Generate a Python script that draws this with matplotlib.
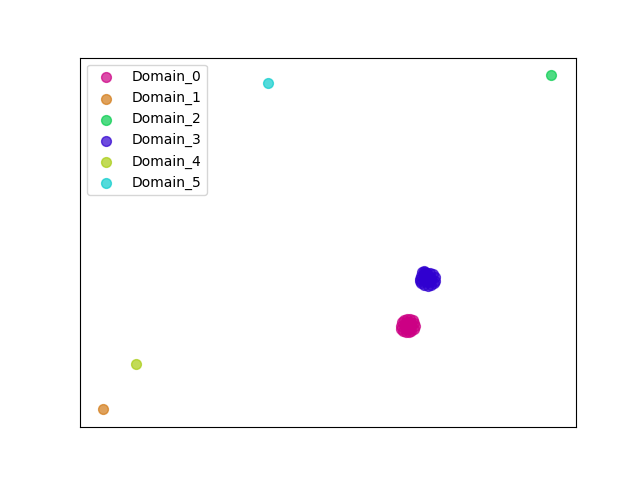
import matplotlib
matplotlib.use("Agg")
import matplotlib.pyplot as plt

labels = ["Domain_0", "Domain_1", "Domain_2", "Domain_3", "Domain_4", "Domain_5"]
colors = ["#cc0084", "#d27a16", "#05cc4e", "#3000d0", "#a8cc10", "#0ccccc"]

# embedding coordinates per domain
xs = [
    [13.2, 13.4, 13.8, 14.3, 14.8, 15.3, 15.6, 15.7, 15.5, 15.1, 14.6, 14.1, 13.6, 13.3,
     14.0, 14.5, 15.0, 14.2, 14.8, 14.5, 14.0, 15.0, 14.5],
    [-40.0],
    [40.0],
    [16.6, 16.8, 17.3, 17.9, 18.5, 19.0, 19.4, 19.4, 19.1, 18.6, 18.0, 17.4, 16.9, 16.7,
     17.3, 17.0, 17.6, 18.0, 18.5, 17.6, 18.4, 18.0, 17.5, 18.6, 18.0],
    [-34.1],
    [-10.5],
]
ys = [
    [-15.0, -14.4, -14.0, -13.8, -13.8, -14.0, -14.5, -15.0, -15.6, -16.0, -16.2, -16.2, -15.9, -15.5,
     -14.5, -14.4, -14.5, -15.6, -15.6, -15.0, -15.0, -15.0, -15.2],
    [-30.0],
    [30.0],
    [-6.6, -6.1, -5.7, -5.6, -5.6, -5.8, -6.3, -7.0, -7.4, -7.7, -7.8, -7.7, -7.4, -7.0,
     -5.2, -5.4, -5.3, -6.2, -6.2, -6.9, -6.9, -6.6, -6.4, -6.6, -7.2],
    [-21.9],
    [28.6],
]

fig, ax = plt.subplots(figsize=(6.4, 4.8), dpi=100)
for i in range(len(labels)):
    ax.scatter(xs[i], ys[i], s=50, color=colors[i], alpha=0.7, label=labels[i])

ax.set_xlim(-44.1, 44.5)
ax.set_ylim(-33.2, 33.1)
ax.set_xticks([])
ax.set_yticks([])
ax.legend(loc="upper left")
fig.savefig("out.png")
